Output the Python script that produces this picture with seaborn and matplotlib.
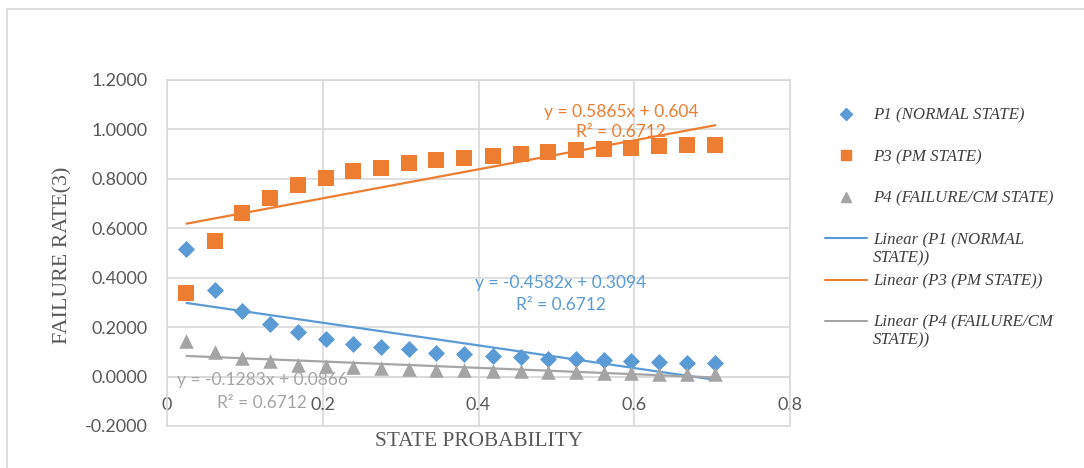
import numpy as np
import pandas as pd
import matplotlib
matplotlib.use("Agg")
import matplotlib.pyplot as plt
import seaborn as sns
from matplotlib.lines import Line2D
from matplotlib.patches import Rectangle

# ---- data ----
state_prob = [0.025, 0.061, 0.096, 0.132, 0.168, 0.204, 0.239, 0.275, 0.311, 0.346,
              0.382, 0.418, 0.454, 0.489, 0.525, 0.561, 0.596, 0.632, 0.668, 0.704]
p1_normal = [0.518, 0.349, 0.264, 0.214, 0.180, 0.153, 0.131, 0.118, 0.110, 0.097,
             0.091, 0.084, 0.078, 0.073, 0.070, 0.066, 0.063, 0.058, 0.055, 0.054]
p3_pm = [0.338, 0.548, 0.661, 0.724, 0.775, 0.802, 0.832, 0.845, 0.866, 0.875,
         0.886, 0.893, 0.902, 0.909, 0.916, 0.922, 0.926, 0.931, 0.935, 0.937]
p4_fail = [0.144, 0.098, 0.075, 0.062, 0.048, 0.044, 0.037, 0.035, 0.030, 0.028,
           0.026, 0.023, 0.021, 0.019, 0.017, 0.016, 0.014, 0.012, 0.010, 0.009]

series_names = ["P1 (NORMAL STATE)", "P3 (PM STATE)", "P4 (FAILURE/CM STATE)"]
trend_slopes = [-0.4582, 0.5865, -0.1283]
trend_intercepts = [0.3094, 0.604, 0.0866]
trend_r2 = [0.6712, 0.6712, 0.6712]
# trendline legend labels: (first line, wrapped continuation)
trend_labels = [("Linear (P1 (NORMAL", "STATE))"), ("Linear (P3 (PM STATE))", ""),
                ("Linear (P4 (FAILURE/CM", "STATE))")]
y_ticks = [-0.2, 0.0, 0.2, 0.4, 0.6, 0.8, 1.0, 1.2]
x_ticks = [0, 0.2, 0.4, 0.6, 0.8]
x_tick_labels = ["0", "0.2", "0.4", "0.6", "0.8"]

colors = ["#5B9BD5", "#ED7D31", "#A5A5A5"]
markers = ["D", "s", "^"]
# equation text positions (data coords): (x, y line1, y line2)
eq_pos = [(0.506, 0.379, 0.291), (0.583, 1.070, 0.989), (0.122, -0.013, -0.105)]

sns.set_theme(style="white")
plt.rcParams["font.family"] = ["Lato", "DejaVu Sans"]

df = pd.DataFrame({
    "x": state_prob * 3,
    "y": p1_normal + p3_pm + p4_fail,
    "series": [series_names[0]] * len(state_prob) + [series_names[1]] * len(state_prob)
              + [series_names[2]] * len(state_prob),
})

fig = plt.figure(figsize=(10.84, 4.68), dpi=100)
ax = fig.add_axes([167 / 1084, 1 - 426 / 468, (790 - 167) / 1084, (426 - 80) / 468])

# trend lines
xmin, xmax = min(state_prob), max(state_prob)
trend_rows = []
for name, m, b in zip(series_names, trend_slopes, trend_intercepts):
    for xv in (xmin, xmax):
        trend_rows.append({"x": xv, "y": m * xv + b, "series": name})
tdf = pd.DataFrame(trend_rows)
sns.lineplot(data=tdf, x="x", y="y", hue="series", palette=colors, linewidth=1.6,
             legend=False, ax=ax, zorder=2)

sizes = {"D": 75, "s": 120, "^": 110}
for name, c, mk in zip(series_names, colors, markers):
    sns.scatterplot(data=df[df["series"] == name], x="x", y="y", color=c, marker=mk,
                    s=sizes[mk], linewidth=0, ax=ax, legend=False, zorder=3)

# equations
for (ex, ey1, ey2), m, b, r2, c in zip(eq_pos, trend_slopes, trend_intercepts, trend_r2, colors):
    sign = "+" if b >= 0 else "-"
    ax.text(ex, ey1, f"y = {m:g}x {sign} {abs(b):g}", color=c, ha="center", va="center",
            fontsize=12.5, zorder=4)
    ax.text(ex, ey2, f"R² = {r2:.4f}", color=c, ha="center", va="center",
            fontsize=12.5, zorder=4)

ax.set_xlim(0, 0.8)
ax.set_ylim(-0.2, 1.2)
ax.set_yticks(y_ticks)
ax.set_yticklabels([f"{v:.4f}" for v in y_ticks])
ax.set_xticks(x_ticks)
ax.set_xticklabels(x_tick_labels)
grid_c = "#D9D9D9"
ax.grid(True, color=grid_c, linewidth=1.2)
for sp in ax.spines.values():
    sp.set_color(grid_c)
    sp.set_linewidth(1.2)
ax.tick_params(axis="y", length=0, pad=14, labelsize=13, labelcolor="#595959")
ax.tick_params(axis="x", length=0, pad=-21, labelsize=13, labelcolor="#595959")
ax.axhline(0, color=grid_c, linewidth=1.2, zorder=1)

ax.set_xlabel("STATE PROBABILITY", family="Liberation Serif", fontsize=15.3, color="#595959")
ax.set_ylabel("FAILURE RATE(3)", family="Liberation Serif", fontsize=15.8, color="#595959")
ax.xaxis.set_label_coords(0.5, -0.018)
ax.yaxis.set_label_coords(-0.152, 0.494)

# legend (Excel-style fixed pitch; wrapped second lines overflow below the entry)
leg_font = {"family": "Liberation Serif", "style": "italic", "size": 12.2}
handles = [Line2D([], [], linestyle="none", marker=mk, color=c, markersize=ms)
           for mk, c, ms in zip(markers, colors, [6, 7, 7])]
handles += [Line2D([], [], color=c, linewidth=1.5) for c in colors]
labels = series_names + [t[0] for t in trend_labels]
leg = fig.legend(handles, labels, loc="upper left", bbox_to_anchor=(818 / 1084, 1 - 101 / 468),
                 frameon=False, prop=leg_font,
                 handlelength=2.5, handletextpad=0.35, labelspacing=1.5, borderaxespad=0)
for t in leg.get_texts():
    t.set_color("#404040")

fig.canvas.draw()
inv = fig.transFigure.inverted()
leg_texts = leg.get_texts()
for i, (_, cont) in enumerate(trend_labels):
    if not cont:
        continue
    bb = leg_texts[3 + i].get_window_extent()
    x0, y0 = inv.transform((bb.x0, bb.y0))
    fig.text(x0, y0 - 2 / 468, cont, ha="left", va="top", color="#404040", **leg_font)

fig.patches.append(Rectangle((7 / 1084, -0.05), 1.2, 1 - 9 / 468 + 0.05,
                             transform=fig.transFigure, fill=False,
                             edgecolor="#D9D9D9", linewidth=1.2))

fig.savefig("out.png", dpi=100)
